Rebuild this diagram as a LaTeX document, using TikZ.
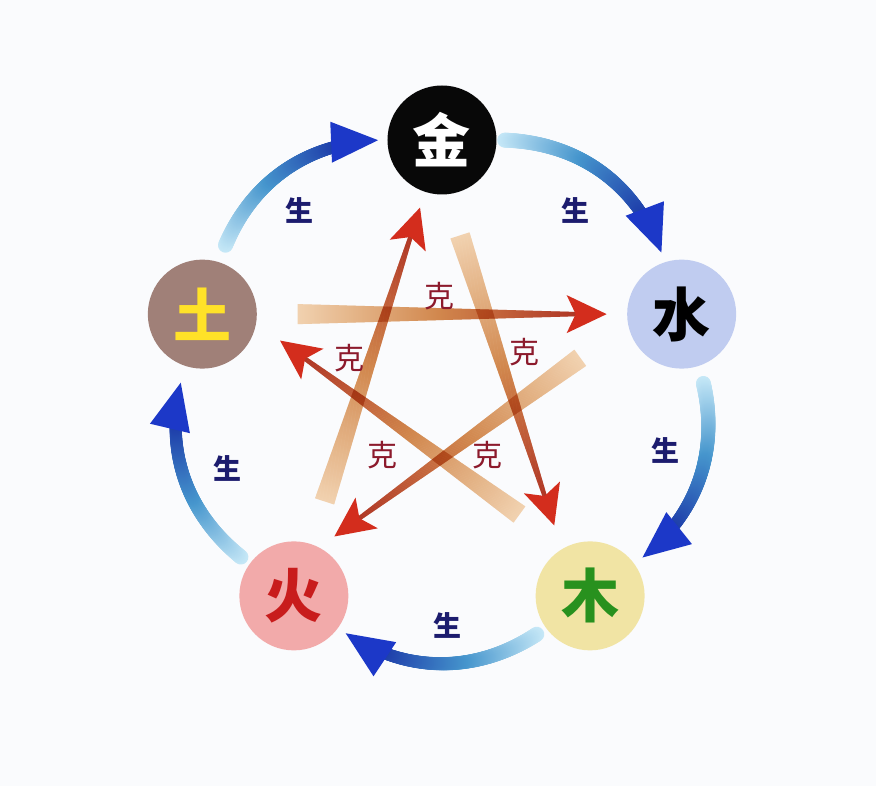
\documentclass[tikz,border=0pt]{standalone}
\usepackage{fontspec}
\usepackage{xcolor}
\usepackage{tikz}
\usetikzlibrary{decorations.markings}
\newfontfamily\cjk{Noto Sans CJK SC}

\definecolor{bgcol}{RGB}{250,251,253}
\definecolor{jincol}{RGB}{8,8,8}
\definecolor{shuicol}{RGB}{192,204,240}
\definecolor{mucol}{RGB}{241,228,164}
\definecolor{mutext}{RGB}{40,145,30}
\definecolor{huocol}{RGB}{242,170,170}
\definecolor{huotext}{RGB}{200,28,28}
\definecolor{tucol}{RGB}{160,128,120}
\definecolor{tutext}{RGB}{255,226,40}
\definecolor{shengpale}{RGB}{198,232,247}
\definecolor{shengmid}{RGB}{70,150,205}
\definecolor{shengdark}{RGB}{30,62,170}
\definecolor{shenghead}{RGB}{28,56,200}
\definecolor{shengtxt}{RGB}{28,28,110}
\definecolor{kepale}{RGB}{246,214,178}
\definecolor{keorange}{RGB}{214,138,78}
\definecolor{kered}{RGB}{178,52,36}
\definecolor{kehead}{RGB}{216,46,30}
\definecolor{ketxt}{RGB}{140,26,44}

% one stamp of a gradient stroke; #1 start, #2 end (from the path's end)
\newcommand{\shengstamp}[2]{%
  \pgfmathsetmacro\shf{max(0,min(1,(\pgfkeysvalueof{/pgf/decoration/mark info/distance from start}-#1)/(\pgfdecoratedpathlength-#1-#2)))}%
  \pgfmathsetmacro\sha{min(100,200*\shf)}%
  \pgfmathsetmacro\shb{max(0,200*\shf-100)}%
  \pgfmathsetmacro\shw{7.5-1.5*\shf}%
  \colorlet{shnow}{shengmid!\sha!shengpale}%
  \colorlet{shnow}{shengdark!\shb!shnow}%
  \fill[shnow] (0,0) circle (\shw pt);%
}
\newcommand{\kestamp}[2]{%
  \pgfmathsetmacro\kef{max(0,min(1,(\pgfkeysvalueof{/pgf/decoration/mark info/distance from start}-#1)/(\pgfdecoratedpathlength-#1-#2)))}%
  \pgfmathsetmacro\kea{min(100,200*\kef)}%
  \pgfmathsetmacro\keb{max(0,200*\kef-100)}%
  \pgfmathsetmacro\kew{10-8*\kef}%
  \colorlet{kenow}{keorange!\kea!kepale}%
  \colorlet{kenow}{kered!\keb!kenow}%
  \fill[kenow] (-0.7pt,-\kew pt) rectangle (0.7pt,\kew pt);%
}

\tikzset{
    wuxing-circle/.style = {circle, minimum size=109pt, inner sep=0pt, font=\cjk\bfseries\fontsize{58}{58}\selectfont},
    sheng-arc/.style n args = {3}{decorate, decoration={markings,
        mark=between positions #1pt and -#3pt step 1pt with {\shengstamp{#1}{#3}},
        mark=at position -#2pt with {\fill[shenghead] (0,0) -- (-47pt,20.5pt) -- (-47pt,-20.5pt) -- cycle;}}},
    ke-arrow/.style n args = {3}{decorate, decoration={markings,
        mark=between positions #1pt and -#3pt step 1pt with {\kestamp{#1}{#3}},
        mark=at position -#2pt with {\fill[kehead] (0,0) -- (-40pt,19pt) -- (-31pt,0) -- (-40pt,-19pt) -- cycle;}}},
    sheng-label/.style = {text=shengtxt, font=\cjk\bfseries\fontsize{28}{28}\selectfont},
    ke-label/.style = {text=ketxt, font=\cjk\fontsize{30}{30}\selectfont},
}

\begin{document}
\begin{tikzpicture}[x=1pt, y=1pt]
\useasboundingbox[fill=bgcol] (-442,-394) rectangle (434,392);

\node[wuxing-circle, fill=jincol, text=white] (jin) at (90:252) {金};
\node[wuxing-circle, fill=shuicol, text=black] (shui) at (18:252) {水};
\node[wuxing-circle, fill=mucol, text=mutext] (mu) at (-54:252) {木};
\node[wuxing-circle, fill=huocol, text=huotext] (huo) at (-126:252) {火};
\node[wuxing-circle, fill=tucol, text=tutext] (tu) at (162:252) {土};

% sheng: outer ring
\foreach \src/\dst/\s/\e [evaluate=\e as \sh using \e+40] in
    {jin/shui/8/11, shui/mu/18/11, mu/huo/11/10, huo/tu/11/18, tu/jin/18/10}
  \path[sheng-arc={\s}{\e}{\sh}] (\src) to[bend left=36] (\dst);

% ke: the star
\foreach \src/\dst/\dx/\dy/\s/\e [evaluate=\e as \sh using \e+25] in
    {tu/shui/0/0/96/75, shui/huo/0/30/126/50, huo/jin/0/0/100/71, jin/mu/-13/0/101/74, mu/tu/0/30/88/96}
  {
  \begin{scope}[transparency group, blend mode=multiply]
    \path[ke-arrow={\s}{\e}{\sh}] ([shift={(\dx,\dy)}]\src.center) -- ([shift={(\dx,\dy)}]\dst.center);
  \end{scope}
  }

\foreach \p [count=\i] in {(133,182), (223,-58), (6,-233), (-214,-76), (-142,182)}
  \node[sheng-label] (sheng-\i) at \p {生};
\foreach \p [count=\i] in {(-2,96), (83,40), (46,-63), (-59,-63), (-92,34)}
  \node[ke-label] (ke-\i) at \p {克};
\end{tikzpicture}
\end{document}
